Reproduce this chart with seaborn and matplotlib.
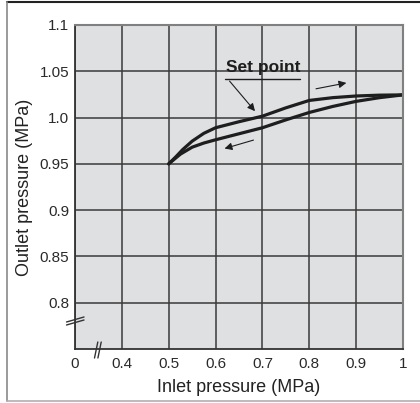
import pandas as pd
import matplotlib
matplotlib.use('Agg')
import matplotlib.pyplot as plt
from matplotlib.lines import Line2D
import seaborn as sns

# Values
inlet_rising = [0.5, 0.515, 0.53, 0.55, 0.575, 0.6, 0.65, 0.7, 0.75, 0.8, 0.85, 0.9, 0.95, 1.0]
outlet_rising = [0.95, 0.9575, 0.9655, 0.9745, 0.983, 0.989, 0.9955, 1.0015, 1.0105, 1.0185,
                 1.0215, 1.0233, 1.0242, 1.0245]
inlet_falling = [0.5, 0.525, 0.55, 0.575, 0.6, 0.65, 0.7, 0.75, 0.8, 0.85, 0.9, 0.95, 1.0]
outlet_falling = [0.95, 0.9605, 0.968, 0.9725, 0.976, 0.9825, 0.989, 0.9975, 1.0055, 1.012,
                  1.0175, 1.0215, 1.0245]

x_ticks = [0.3, 0.4, 0.5, 0.6, 0.7, 0.8, 0.9, 1.0]
x_tick_labels = ['0', '0.4', '0.5', '0.6', '0.7', '0.8', '0.9', '1']
y_ticks = [0.8, 0.85, 0.9, 0.95, 1.0, 1.05, 1.1]
y_tick_labels = ['0.8', '0.85', '0.9', '0.95', '1.0', '1.05', '1.1']

df = pd.DataFrame({'inlet': inlet_rising + inlet_falling,
                   'outlet': outlet_rising + outlet_falling,
                   'branch': ['rising'] * len(inlet_rising) + ['falling'] * len(inlet_falling)})

sns.set_style('white')
plt.rcParams['font.family'] = ['Liberation Sans', 'DejaVu Sans']

fig = plt.figure(figsize=(4.2, 4.03), dpi=100)
ax = fig.add_axes([0.1786, 0.134, 0.7809, 0.804])
ax.set_facecolor('#dfe0e2')

sns.lineplot(data=df, x='inlet', y='outlet', units='branch', estimator=None,
             sort=False, color='#1e1e1e', lw=2.3, ax=ax, legend=False)

ax.set_xlim(0.3, 1.0)
ax.set_ylim(0.75, 1.1)
ax.set_xticks(x_ticks)
ax.set_xticklabels(x_tick_labels)
ax.set_yticks(y_ticks)
ax.set_yticklabels(y_tick_labels)
ax.tick_params(length=0, labelsize=11, colors='#2a2a2a')
ax.tick_params(axis='x', pad=6)
ax.tick_params(axis='y', pad=4)
ax.grid(True, color='#3a3a3a', lw=1.1)
ax.set_axisbelow(True)

for side in ['left', 'bottom']:
    ax.spines[side].set_color('#333333')
    ax.spines[side].set_linewidth(1.3)
for side in ['top', 'right']:
    ax.spines[side].set_color('#808080')
    ax.spines[side].set_linewidth(1.5)

ax.set_xlabel('Inlet pressure (MPa)', fontsize=13, labelpad=5.5, color='#222222')
ax.set_ylabel('Outlet pressure (MPa)', fontsize=13, labelpad=5, color='#222222')

# axis break marks
for dy in (0, 3):
    ax.add_line(Line2D([-8.5 / 328, 9 / 328], [(27 - dy) / 324, (32 - dy) / 324],
                       transform=ax.transAxes, color='#333333', lw=1.0, clip_on=False))
for dx in (0, 3.4):
    ax.add_line(Line2D([(19.5 + dx) / 328, (22.8 + dx) / 328], [-9 / 324, 7 / 324],
                       transform=ax.transAxes, color='#333333', lw=1.0, clip_on=False))

# set point note
ax.text(0.701, 1.049, 'Set point', fontsize=12.5, fontweight='bold', ha='center', va='baseline',
        color='#1e1e1e')
ax.plot([0.621, 0.781], [1.042, 1.042], color='#1e1e1e', lw=1.0)
ax.annotate('', xy=(0.688, 1.0046), xytext=(0.626, 1.0417),
            arrowprops=dict(arrowstyle='-|>', color='#1e1e1e', lw=0.8, mutation_scale=11))

# direction arrows
ax.annotate('', xy=(0.885, 1.038), xytext=(0.8085, 1.0305),
            arrowprops=dict(arrowstyle='-|>', color='#1e1e1e', lw=0.8, mutation_scale=11))
ax.annotate('', xy=(0.6134, 0.9657), xytext=(0.6866, 0.9765),
            arrowprops=dict(arrowstyle='-|>', color='#1e1e1e', lw=0.8, mutation_scale=11))

# outer frame
fig.add_artist(Line2D([7 / 420, 1], [1 - 2 / 403, 1 - 2 / 403], transform=fig.transFigure,
                      color='#222222', lw=1.5))
fig.add_artist(Line2D([7 / 420, 7 / 420], [1 - 2 / 403, 2 / 403], transform=fig.transFigure,
                      color='#8a8a8a', lw=1.2))
fig.add_artist(Line2D([7 / 420, 1], [2 / 403, 2 / 403], transform=fig.transFigure,
                      color='#b0b0b0', lw=1.2))

fig.savefig('out.png', dpi=100)
